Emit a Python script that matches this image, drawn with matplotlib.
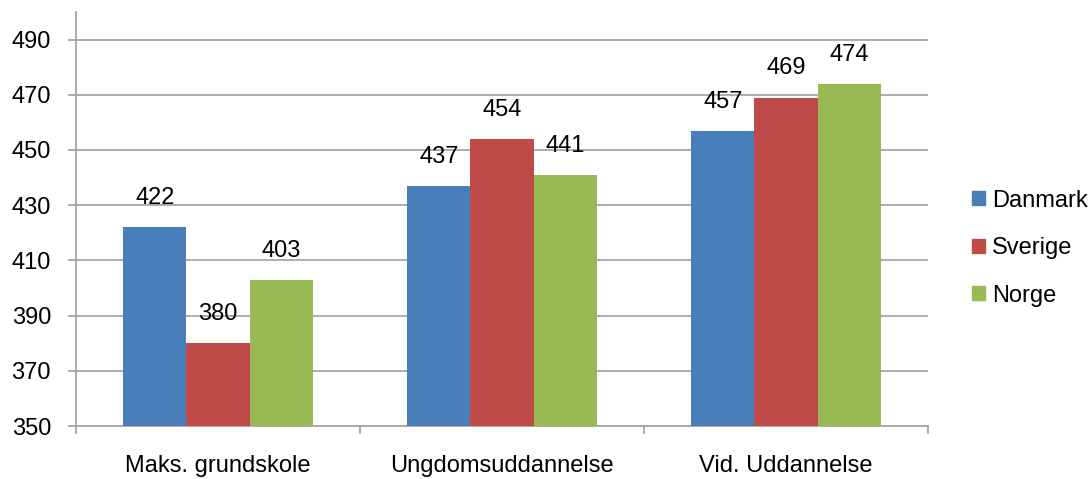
import numpy as np
import matplotlib
matplotlib.use("Agg")
import matplotlib.pyplot as plt
from matplotlib.patches import Patch

plt.rcParams['font.family'] = ['Liberation Sans', 'DejaVu Sans']

categories = ["Maks. grundskole", "Ungdomsuddannelse", "Vid. Uddannelse"]
series = ["Danmark", "Sverige", "Norge"]
danmark = [422, 437, 457]
sverige = [380, 454, 469]
norge = [403, 441, 474]
colors = ["#4A7EBB", "#BE4B48", "#98B954"]

fig = plt.figure(figsize=(10.92, 4.79), dpi=100)
ax = fig.add_axes([0.0696, 0.1106, 0.7802, 0.8644])

x = np.arange(len(categories))
width = 0.222
fs = 17
for i, (name, vals) in enumerate(zip(series, [danmark, sverige, norge])):
    pos = x + (i - 1) * width
    ax.bar(pos, [v - 350 for v in vals], width, bottom=350, color=colors[i], label=name, zorder=3)
    for p, v in zip(pos, vals):
        ax.annotate(str(v), (p, v), xytext=(0, 21), textcoords="offset points",
                    ha="center", va="center", fontsize=fs, color="#000000")

ax.set_xlim(-0.5, 2.5)
ax.set_ylim(350, 500)
ax.set_yticks(np.arange(350, 491, 20))
ax.yaxis.grid(True, color="#A6A6A6", linewidth=1.3, zorder=0)
ax.set_xticks(x)
ax.set_xticklabels(categories, fontsize=fs)
ax.set_xticks([-0.5, 0.5, 1.5, 2.5], minor=True)
ax.tick_params(axis="x", which="major", length=0, pad=21)
ax.tick_params(axis="x", which="minor", length=6, width=1.3, color="#A6A6A6", direction="out")
ax.tick_params(axis="y", length=6, width=1.3, color="#A6A6A6", pad=12, labelsize=fs)
for s in ["top", "right"]:
    ax.spines[s].set_visible(False)
for s in ["left", "bottom"]:
    ax.spines[s].set_color("#A6A6A6")
    ax.spines[s].set_linewidth(1.3)

handles = [Patch(color=c, label=n) for c, n in zip(colors, series)]
fig.legend(handles=handles, loc="center left", bbox_to_anchor=(0.879, 0.482),
           frameon=False, fontsize=fs, handlelength=0.55, handleheight=0.55,
           handletextpad=0.3, labelspacing=1.08, borderpad=0)

fig.savefig("out.png", dpi=100)
